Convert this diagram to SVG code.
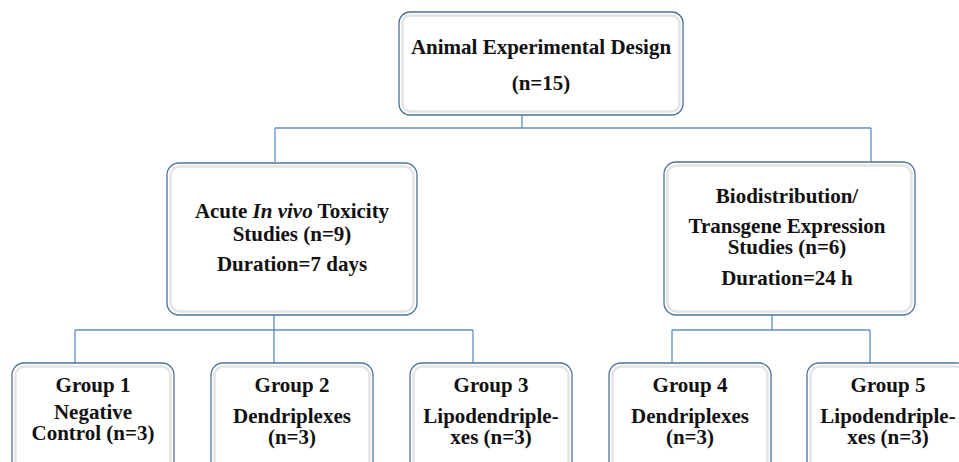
<svg xmlns="http://www.w3.org/2000/svg" width="959" height="462" viewBox="0 0 959 462">
<style>
.box{fill:#ffffff;stroke:#4f7299;stroke-width:1.3}
.inner{fill:none;stroke:#e4e4e4;stroke-width:2.5}
.t{font-family:"Liberation Serif","Times New Roman",serif;font-weight:bold;font-size:21px;fill:#111;text-anchor:middle}
.conn{stroke:#5f90c6;stroke-width:1.3;fill:none}
</style>
<rect width="959" height="462" fill="#ffffff"/>
<g id="connectors">
<path class="conn" d="M522,96V128M275,128H871M275,128V162M871,128V162"/>
<path class="conn" d="M274,298V330M75,330H473M75,330V363M274,330V363M473,330V363"/>
<path class="conn" d="M772,298V330M672,330H870M672,330V363M870,330V363"/>
</g>
<g id="root">
<rect class="box" x="399" y="12" width="284" height="103" rx="11"/>
<rect class="inner" x="402.5" y="15.5" width="277" height="96" rx="8"/>
<text class="t" x="541" y="54" font-size="22">Animal Experimental Design</text>
<text class="t" x="541" y="90" font-size="22">(n=15)</text>
</g>
<g id="acute">
<rect class="box" x="167" y="163" width="250" height="152" rx="12"/>
<rect class="inner" x="170.5" y="166.5" width="243" height="145" rx="9"/>
<text class="t" x="292" y="218">Acute <tspan font-style="italic">In vivo</tspan> Toxicity</text>
<text class="t" x="292" y="241">Studies (n=9)</text>
<text class="t" x="292" y="271">Duration=7 days</text>
</g>
<g id="bio">
<rect class="box" x="664" y="162" width="251" height="153" rx="12"/>
<rect class="inner" x="667.5" y="165.5" width="244" height="146" rx="9"/>
<text class="t" x="787" y="203">Biodistribution/</text>
<text class="t" x="787" y="233">Transgene Expression</text>
<text class="t" x="787" y="254">Studies (n=6)</text>
<text class="t" x="787" y="285">Duration=24 h</text>
</g>
<g id="g1">
<rect class="box" x="12" y="363" width="162" height="120" rx="12"/>
<rect class="inner" x="15.5" y="366.5" width="155" height="113" rx="9"/>
<text class="t" x="93" y="392">Group 1</text>
<text class="t" x="93" y="419">Negative</text>
<text class="t" x="93" y="440">Control (n=3)</text>
</g>
<g id="g2">
<rect class="box" x="211" y="363" width="162" height="120" rx="12"/>
<rect class="inner" x="214.5" y="366.5" width="155" height="113" rx="9"/>
<text class="t" x="292" y="392">Group 2</text>
<text class="t" x="292" y="423">Dendriplexes</text>
<text class="t" x="292" y="444">(n=3)</text>
</g>
<g id="g3">
<rect class="box" x="410" y="363" width="162" height="120" rx="12"/>
<rect class="inner" x="413.5" y="366.5" width="155" height="113" rx="9"/>
<text class="t" x="491" y="392">Group 3</text>
<text class="t" x="491" y="423">Lipodendriple-</text>
<text class="t" x="491" y="444">xes (n=3)</text>
</g>
<g id="g4">
<rect class="box" x="609" y="363" width="162" height="120" rx="12"/>
<rect class="inner" x="612.5" y="366.5" width="155" height="113" rx="9"/>
<text class="t" x="690" y="392">Group 4</text>
<text class="t" x="690" y="423">Dendriplexes</text>
<text class="t" x="690" y="444">(n=3)</text>
</g>
<g id="g5">
<rect class="box" x="807" y="363" width="162" height="120" rx="12"/>
<rect class="inner" x="810.5" y="366.5" width="155" height="113" rx="9"/>
<text class="t" x="888" y="392">Group 5</text>
<text class="t" x="888" y="423">Lipodendriple-</text>
<text class="t" x="888" y="444">xes (n=3)</text>
</g>
</svg>
